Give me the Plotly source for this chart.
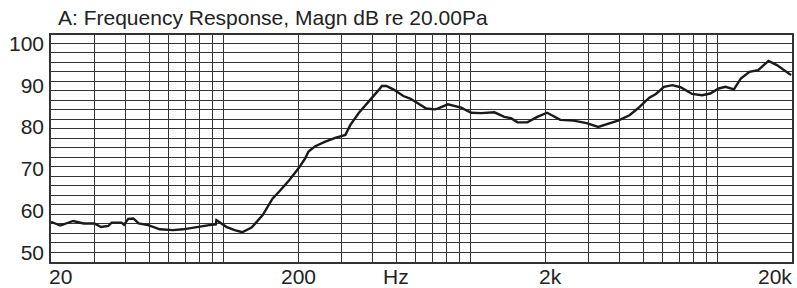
import numpy as np
import plotly.graph_objects as go

# ---- data ----
freq_hz = [20, 21.8, 24.6, 27.1, 30, 31.9, 34.1, 35.2, 38.6, 39.5,
           41.1, 43.1, 45.3, 49.5, 55.2, 62.3, 68.4, 77.2, 87.4, 93,
           93.5, 102.5, 110.8, 118.9, 129.7, 143.9, 157.9, 167.6, 184.6, 201,
           214, 220.6, 235, 258, 283, 311, 326, 353, 387, 424,
           437, 456, 486, 534, 569, 610, 661, 716, 735, 809,
           915, 1006, 1102, 1248, 1369, 1456, 1549, 1697, 1861, 2040,
           2307, 2609, 2949, 3286, 3655, 3948, 4397, 4747, 5289, 5623,
           6066, 6555, 7076, 7879, 8647, 9337, 10100, 10760, 11640, 12410,
           13450, 14590, 16070, 17370, 19830]
magn_db = [57.3, 56.4, 57.5, 56.9, 56.9, 56.05, 56.3, 57.1, 57.1, 56.6,
           58.0, 58.1, 56.9, 56.5, 55.5, 55.3, 55.5, 56.05, 56.5, 56.7,
           57.7, 56.1, 55.3, 54.8, 55.9, 58.9, 62.9, 64.5, 67.3, 70.1,
           72.5, 74.1, 75.4, 76.5, 77.4, 78.1, 80.5, 83.4, 86.0, 88.8,
           89.8, 89.8, 89.0, 87.4, 86.8, 85.6, 84.4, 84.2, 84.4, 85.4,
           84.6, 83.4, 83.3, 83.5, 82.4, 82.1, 81.1, 81.1, 82.4, 83.4,
           81.7, 81.5, 80.9, 80.0, 80.9, 81.5, 82.8, 84.4, 87.0, 87.9,
           89.6, 90.0, 89.5, 87.9, 87.6, 88.0, 89.2, 89.6, 89.0, 91.6,
           93.2, 93.6, 95.8, 94.8, 92.4]
assert len(freq_hz) == len(magn_db)

y_tick_values = [50, 60, 70, 80, 90, 100]
x_tick_freqs = [20, 200, 500, 2000, 20000]
x_tick_texts = ["20", "200", "Hz", "2k", "20k"]
title_text = "A: Frequency Response, Magn dB re 20.00Pa"

# ---- styling ----
FONT = "Liberation Sans, Arial, sans-serif"
TXT = "#222222"
GRID = "#333333"
x_range = [np.log10(20), np.log10(20000)]
y_range = [47.68, 102.0]

x_grid = [m * 10 ** k for k in range(1, 5) for m in range(1, 10)
          if 20 < m * 10 ** k < 20000]
y_grid = [50 + i * 50 / 22 for i in range(0, 23)]

fig = go.Figure()
fig.add_trace(go.Scatter(x=freq_hz, y=magn_db, mode="lines",
                         line=dict(color="#1a1a1a", width=2.4),
                         hoverinfo="skip", showlegend=False))

fig.update_layout(
    width=797, height=288,
    margin=dict(l=51, r=3, t=35, b=26),
    paper_bgcolor="white", plot_bgcolor="white",
    font=dict(family=FONT, size=21, color=TXT),
    showlegend=False,
)
fig.update_xaxes(type="log", range=x_range, showgrid=False, zeroline=False,
                 showticklabels=False, ticks="",
                 showline=True, linecolor=GRID, linewidth=1.5, mirror=True,
                 minor=dict(tickvals=x_grid, showgrid=True, gridcolor=GRID,
                            gridwidth=1, ticks=""))
fig.update_yaxes(range=y_range, tickvals=y_tick_values, showgrid=False,
                 zeroline=False, ticks="", ticklabelstandoff=1,
                 tickfont=dict(family=FONT, size=21, color=TXT),
                 showline=True, linecolor=GRID, linewidth=1.5, mirror=True,
                 minor=dict(tickvals=y_grid, showgrid=True, gridcolor=GRID,
                            gridwidth=1, ticks=""))

# x tick labels placed under the axis
x_shift = [9, 0, 0, 5, -17]
for f, t, s in zip(x_tick_freqs, x_tick_texts, x_shift):
    fig.add_annotation(x=np.log10(f), xref="x", y=0, yref="paper",
                       yanchor="top", yshift=-1, xshift=s, text=t,
                       showarrow=False,
                       font=dict(family=FONT, size=21, color=TXT))

fig.add_annotation(x=0.0067, xref="paper", xanchor="left",
                   y=1.075, yref="paper", yanchor="middle",
                   text=title_text, showarrow=False,
                   font=dict(family=FONT, size=21, color=TXT))

fig.write_html(
    "out.html",
    config={"displayModeBar": False},
    post_script="document.body.style.margin='0px';document.body.style.overflow='hidden';",
)
